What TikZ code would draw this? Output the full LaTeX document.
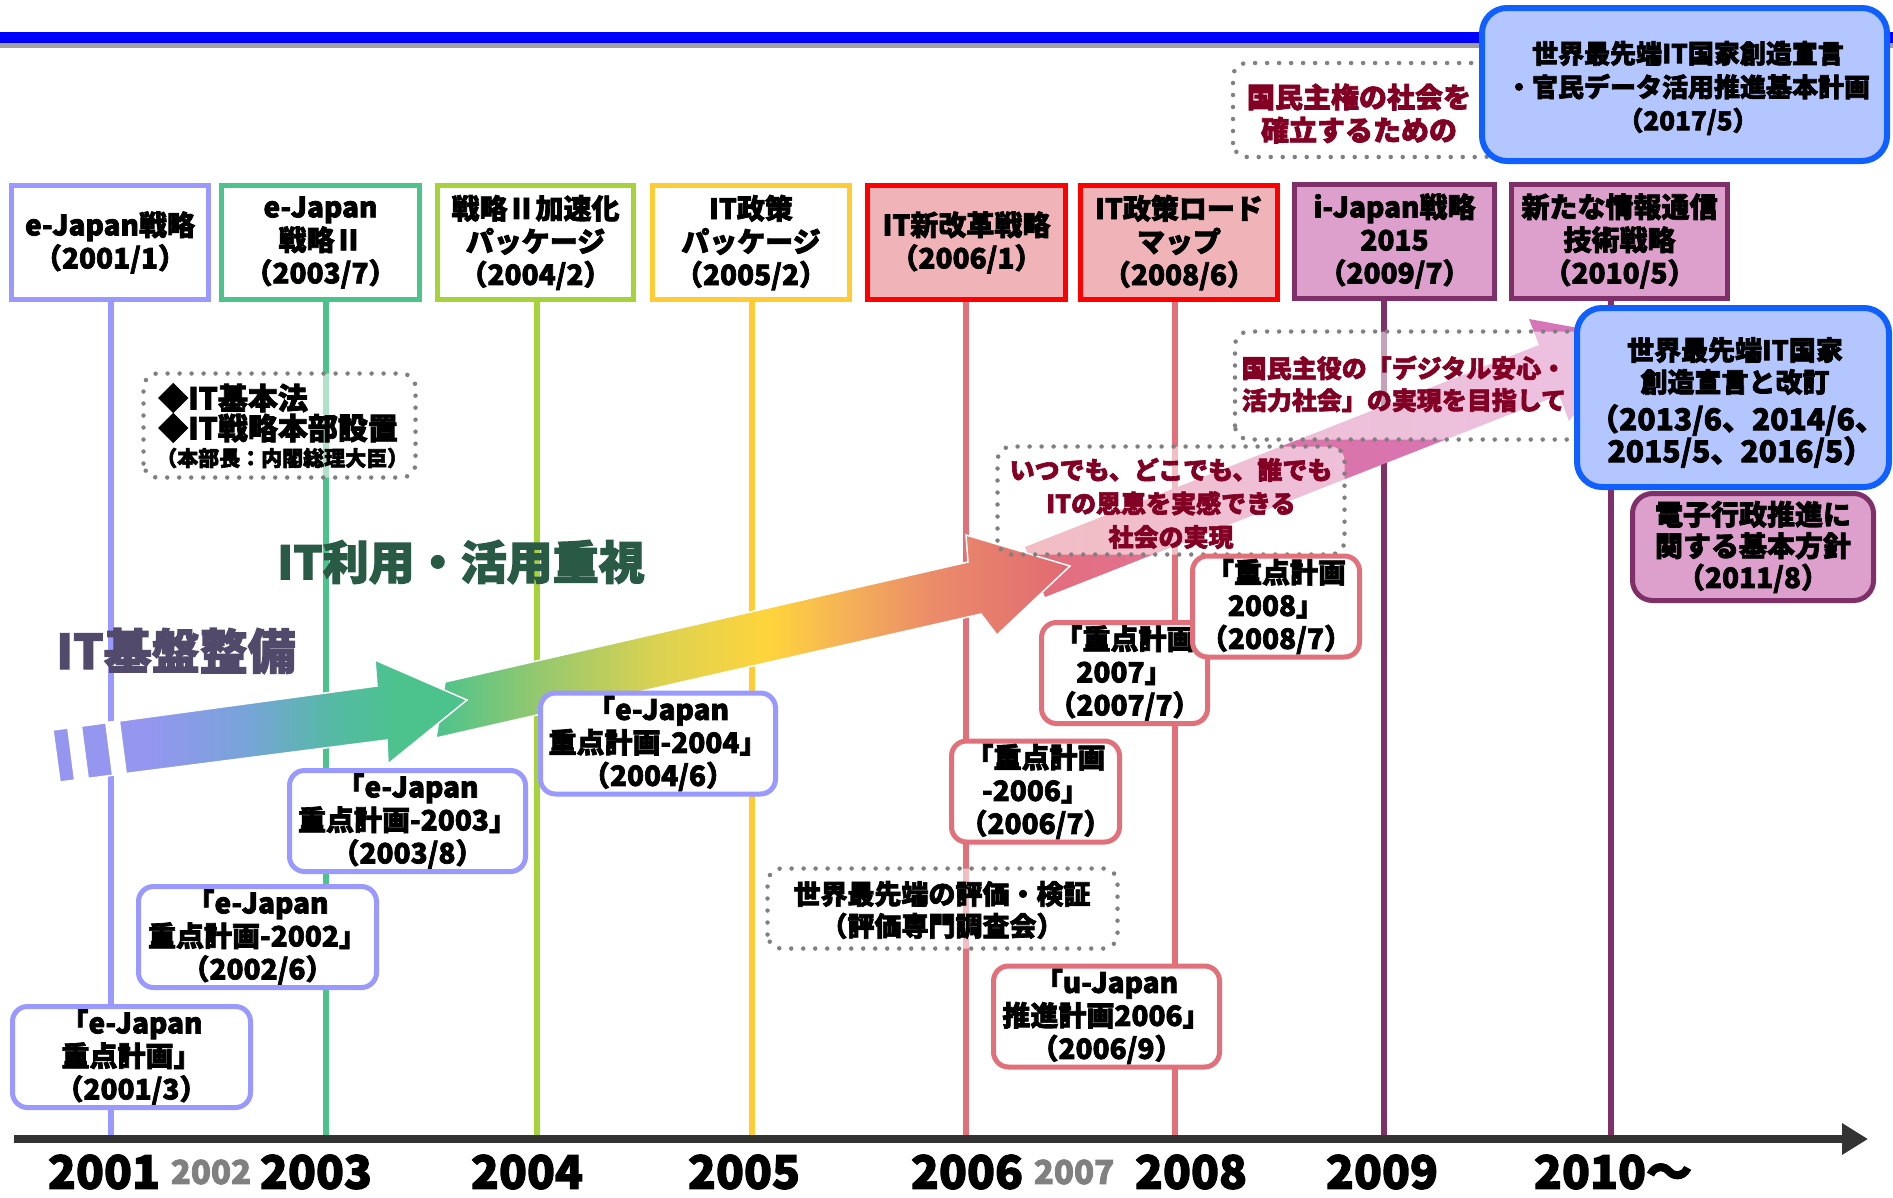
\documentclass[tikz,border=0pt]{standalone}
\usepackage{fontspec}
\setmainfont{Noto Sans CJK JP}[BoldFeatures={FakeBold=2.5}]
\usetikzlibrary{arrows.meta}
\definecolor{lav}{RGB}{153,153,255}
\definecolor{grn}{RGB}{76,195,138}
\definecolor{ygr}{RGB}{166,211,58}
\definecolor{yel}{RGB}{255,204,51}
\definecolor{sal}{RGB}{226,112,122}
\definecolor{pinkfill}{RGB}{240,180,184}
\definecolor{pur}{RGB}{127,48,104}
\definecolor{purfill}{RGB}{221,160,204}
\definecolor{bluebd}{RGB}{16,96,255}
\definecolor{bluefill}{RGB}{180,198,255}
\definecolor{dred}{RGB}{130,0,35}
\definecolor{dgreen}{RGB}{40,90,70}
\definecolor{slate}{RGB}{82,74,107}
\definecolor{axisc}{RGB}{51,51,51}
\definecolor{dotg}{RGB}{128,128,128}
\definecolor{topblue}{RGB}{0,0,255}
\definecolor{topgray}{RGB}{160,160,160}
\definecolor{aA}{RGB}{148,150,240}
\definecolor{aB}{RGB}{118,165,215}
\definecolor{aC}{RGB}{85,185,165}
\definecolor{aD}{RGB}{76,195,140}
\definecolor{bB}{RGB}{150,200,110}
\definecolor{bC}{RGB}{220,210,80}
\definecolor{bD}{RGB}{255,212,60}
\definecolor{bE}{RGB}{245,180,85}
\definecolor{bF}{RGB}{235,140,105}
\definecolor{bG}{RGB}{225,105,115}
\definecolor{cA}{RGB}{228,108,120}
\definecolor{cB}{RGB}{226,112,135}
\definecolor{cC}{RGB}{220,115,165}
\definecolor{cD}{RGB}{212,118,190}
\pgfdeclarehorizontalshading{arrowone}{100bp}{color(0bp)=(aA); color(25bp)=(aA); color(36.7bp)=(aA); color(48.8bp)=(aB); color(58.5bp)=(aC); color(66.9bp)=(aD); color(75bp)=(aD); color(100bp)=(aD)}
\pgfdeclarehorizontalshading{arrowtwo}{100bp}{color(0bp)=(aD); color(25bp)=(aD); color(33.2bp)=(bB); color(42.7bp)=(bC); color(51.3bp)=(bD); color(56.9bp)=(bE); color(64bp)=(bF); color(75bp)=(bG); color(100bp)=(bG)}
\pgfdeclarehorizontalshading{arrowthree}{100bp}{color(0bp)=(cA); color(25bp)=(cA); color(31.2bp)=(cB); color(43.5bp)=(cC); color(75bp)=(cD); color(100bp)=(cD)}
\tikzset{
  base/.style={font=\bfseries\fontsize{28}{33}\selectfont, align=center, inner sep=0pt},
  topbox/.style={base, draw, line width=5pt, fill=white, minimum height=114pt},
  plan/.style={base, draw, line width=5pt, fill=white, rounded corners=15pt, minimum height=101pt},
  dotfill/.style={fill=white, fill opacity=0.55, rounded corners=14pt, inner sep=0pt, outer sep=0pt},
  dotline/.style={draw=dotg, line width=4.5pt, dash pattern=on 0pt off 12pt, line cap=round, rounded corners=14pt},
  vline/.style={line width=6pt},
  year/.style={font=\bfseries\fontsize{46}{46}\selectfont, inner sep=0pt},
  yearsm/.style={font=\bfseries\fontsize{33}{33}\selectfont, text=dotg, inner sep=0pt},
  redtxt/.style={base, text=dred},
}
\begin{document}
\begin{tikzpicture}[x=1pt, y=-1pt]
\useasboundingbox (0,0) rectangle (1893,1197);
\fill[white] (0,0) rectangle (1893,1197);
% header rule
\fill[topblue] (0,32) rectangle (1893,43);
\fill[topgray] (0,43) rectangle (1893,48);

% top boxes
\node[topbox, draw=lav, minimum width=197pt] (b1) at (110,242.5) {e-Japan戦略\\（2001/1）};
\node[topbox, draw=grn, minimum width=198pt] (b2) at (320.5,242.5) {e-Japan\\戦略Ⅱ\\（2003/7）};
\node[topbox, draw=ygr, minimum width=196pt] (b3) at (535.5,242.5) {戦略Ⅱ加速化\\パッケージ\\（2004/2）};
\node[topbox, draw=yel, minimum width=197pt] (b4) at (751,242.5) {IT政策\\パッケージ\\（2005/2）};
\node[topbox, draw=red, fill=pinkfill, minimum width=198pt] (b5) at (966.5,242.5) {IT新改革戦略\\（2006/1）};
\node[topbox, draw=red, fill=pinkfill, minimum width=197pt] (b6) at (1179,242.5) {IT政策ロード\\マップ\\（2008/6）};
\node[topbox, draw=pur, fill=purfill, minimum width=200pt] (b7) at (1394.5,241) {i-Japan戦略\\2015\\（2009/7）};
\node[topbox, draw=pur, fill=purfill, minimum width=216pt] (b8) at (1619.5,241) {新たな情報通信\\技術戦略\\（2010/5）};

% timeline coordinates
\coordinate (t1) at (111,1139);
\coordinate (t3) at (326,1139);
\coordinate (t4) at (537,1139);
\coordinate (t5) at (752,1139);
\coordinate (t6) at (966,1139);
\coordinate (t8) at (1175,1139);
\coordinate (t9) at (1384,1139);
\coordinate (t10) at (1611,1139);
\coordinate (axL) at (14,1139);
\coordinate (axR) at (1868,1139);

% vertical year lines
\draw[vline, lav] (t1 |- b1.south) -- (t1);
\draw[vline, grn] (t3 |- b2.south) -- (t3);
\draw[vline, ygr] (t4 |- b3.south) -- (t4);
\draw[vline, yel] (t5 |- b4.south) -- (t5);
\draw[vline, sal] (t6 |- b5.south) -- (t6);
\draw[vline, sal] (t8 |- b6.south) -- (t8);
\draw[vline, pur] (t9 |- b7.south) -- (t9);
\draw[vline, pur] (t10 |- b8.south) -- (t10);

% axis
\draw[line width=8pt, axisc, -{Triangle[length=26pt, width=30pt]}] (axL) -- (axR);

% year labels
\node[year] (y2001) at (104,1172) {2001};
\node[yearsm] (y2002) at (211,1172) {2002};
\node[year] (y2003) at (316,1172) {2003};
\node[year] (y2004) at (527,1172) {2004};
\node[year] (y2005) at (744,1172) {2005};
\node[year] (y2006) at (967,1172) {2006};
\node[yearsm] (y2007) at (1074,1172) {2007};
\node[year] (y2008) at (1191,1172) {2008};
\node[year] (y2009) at (1382,1172) {2009};
\node[year] (y2010) at (1613,1172) {2010～};

% big labels
\node[font=\bfseries\fontsize{46}{46}\selectfont, text=dgreen, inner sep=0pt] (lbl1) at (461,562) {IT利用・活用重視};
\node[font=\bfseries\fontsize{48}{48}\selectfont, text=slate, inner sep=0pt] (lbl2) at (176,651) {IT基盤整備};

% arrow 3 (pink)
\shade[shading=arrowthree] (1025,547) -- (1539,345) -- (1529,319) -- (1633,338) -- (1569,421) -- (1559,395) -- (1045,597) -- cycle;

% dotted box fills over arrow 3
\node[dotfill, minimum width=347pt, minimum height=108pt] (dr) at (1171,500.5) {};
\node[dotfill, minimum width=362pt, minimum height=108pt] (ds) at (1416,385.5) {};

% arrow 2
\shade[shading=arrowtwo, draw=white, line width=1.5pt] (445,682) -- (968,562) -- (966,535) -- (1070,566) -- (997,635) -- (981,614) -- (436,738) -- cycle;
% arrow 1
\shade[shading=arrowone, draw=white, line width=1.5pt] (53,730) -- (377,686) -- (375,660) -- (467,700) -- (388,764) -- (387,740) -- (60,782) -- cycle;
\fill[white] (67,727) -- (82,725) -- (89,779) -- (74,781) -- cycle;
\fill[white] (105,722) -- (120,720) -- (127,774) -- (112,776) -- cycle;

\draw[dotline] (dr.south west) rectangle (dr.north east);
\draw[dotline] (ds.south west) rectangle (ds.north east);

% other dotted boxes
\node[dotfill, minimum width=272pt, minimum height=104pt] (dk) at (279.5,425.5) {};
\draw[dotline] (dk.south west) rectangle (dk.north east);
\node[dotfill, minimum width=265pt, minimum height=94pt] (dq) at (1365.5,110) {};
\draw[dotline] (dq.south west) rectangle (dq.north east);
\node[dotfill, minimum width=350pt, minimum height=80pt] (dt) at (942.5,908.5) {};
\draw[dotline] (dt.south west) rectangle (dt.north east);

% dotted box texts
\node[base, anchor=west, font=\bfseries\fontsize{30}{30}\selectfont] (k1) at (158,398) {◆IT基本法};
\node[base, anchor=west, font=\bfseries\fontsize{30}{30}\selectfont] (k2) at (158,428) {◆IT戦略本部設置};
\node[base, anchor=west, font=\bfseries\fontsize{21}{21}\selectfont] (k3) at (156,458) {（本部長：内閣総理大臣）};
\node[redtxt] (tq) at (1359,113.5) {国民主権の社会を\\確立するための};
\node[redtxt, font=\bfseries\fontsize{25}{33.5}\selectfont] (tr) at (1171,503.5) {いつでも、どこでも、誰でも\\ITの恩恵を実感できる\\社会の実現};
\node[redtxt, font=\bfseries\fontsize{25}{32}\selectfont] (ts) at (1404,384) {国民主役の「デジタル安心・\\活力社会」の実現を目指して};
\node[base, font=\bfseries\fontsize{27}{32}\selectfont] (tt) at (942,910) {世界最先端の評価・検証\\（評価専門調査会）};

% plan boxes
\node[plan, draw=lav, minimum width=238pt] (p1) at (131.5,1057) {「e-Japan\\重点計画」\\（2001/3）};
\node[plan, draw=lav, minimum width=238pt] (p2) at (257.5,937) {「e-Japan\\重点計画-2002」\\（2002/6）};
\node[plan, draw=lav, minimum width=236pt] (p3) at (407.5,821) {「e-Japan\\重点計画-2003」\\（2003/8）};
\node[plan, draw=lav, minimum width=235pt] (p4) at (658,743.5) {「e-Japan\\重点計画-2004」\\（2004/6）};
\node[plan, draw=sal, minimum width=168pt] (p5) at (1035.5,791.5) {「重点計画\\-2006」\\（2006/7）};
\node[plan, draw=sal, minimum width=166pt] (p6) at (1124.5,673) {「重点計画\\2007」\\（2007/7）};
\node[plan, draw=sal, minimum width=167pt] (p7) at (1276,606.5) {「重点計画\\2008」\\（2008/7）};
\node[plan, draw=sal, minimum width=226pt] (p8) at (1106.5,1016.5) {「u-Japan\\推進計画2006」\\（2006/9）};

% blue boxes
\node[draw=bluebd, fill=bluefill, line width=6pt, rounded corners=25pt, minimum width=405pt, minimum height=153pt, inner sep=0pt] (u) at (1684.5,84.5) {};
\node[base, font=\bfseries\fontsize{26}{33.5}\selectfont] (ut) at (1688,88) {世界最先端IT国家創造宣言\\・官民データ活用推進基本計画\\（2017/5）};
\node[draw=bluebd, fill=bluefill, line width=6pt, rounded corners=25pt, minimum width=312pt, minimum height=179pt, inner sep=0pt] (v) at (1733,397.5) {};
\node[base, font=\bfseries\fontsize{27}{32}\selectfont] (vt1) at (1735,366) {世界最先端IT国家\\創造宣言と改訂};
\node[base, font=\bfseries\fontsize{30}{32}\selectfont] (vt2) at (1737,436) {（2013/6、2014/6、\\\ 2015/5、2016/5）};

% purple box
\node[base, draw=pur, fill=purfill, line width=5pt, rounded corners=20pt, minimum width=241pt, minimum height=107pt, font=\bfseries\fontsize{28}{31.5}\selectfont] (w) at (1753,547) {電子行政推進に\\関する基本方針\\（2011/8）};
\end{tikzpicture}
\end{document}
